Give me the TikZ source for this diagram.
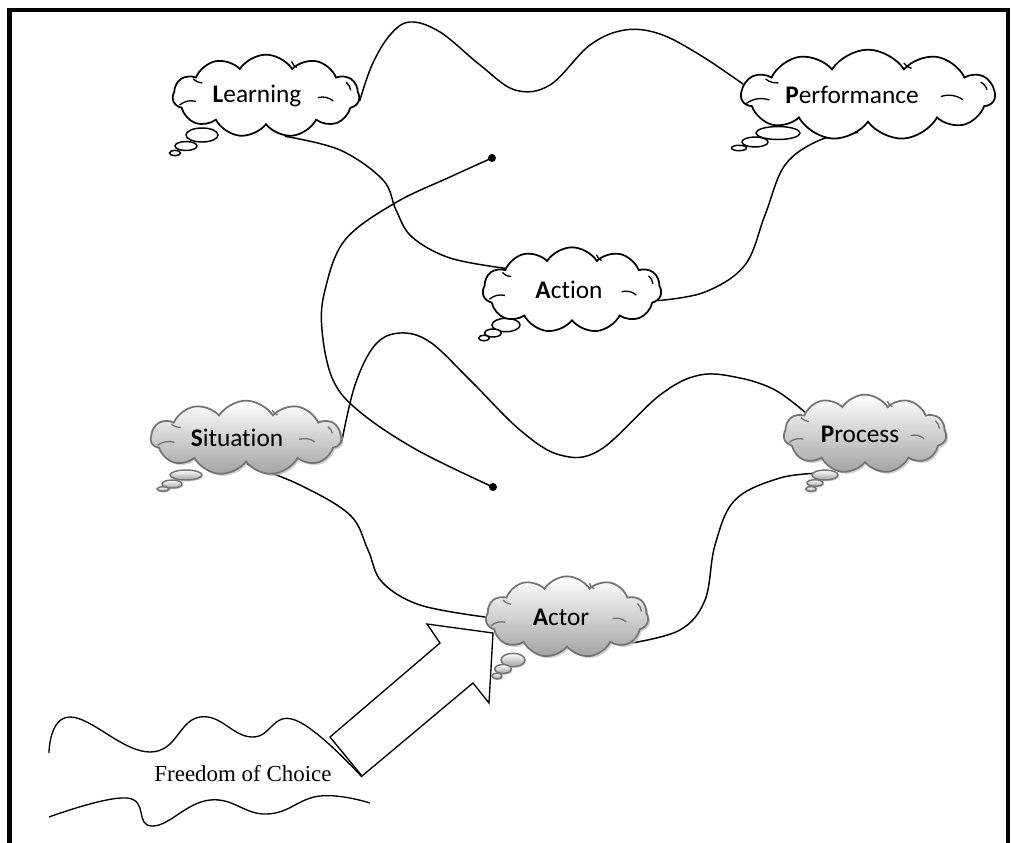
\documentclass[tikz,border=0pt]{standalone}
\usepackage{fontspec}
\setmainfont{Carlito}[Ligatures=NoCommon]
\newfontfamily\serifface{Liberation Serif}
\usetikzlibrary{shapes.symbols,shadows,backgrounds}
% zero-width label; the optional shift moves the words left or right
\newcommand\cloudtext[2][0pt]{\makebox[0pt]{\hspace*{#1}#2}}
% small creases inside a cloud; #2 node, #3 half width, #4 half height
\newcommand\creases[4][black]{%
  \begin{scope}[shift={(#2.center)}, line width=1pt, draw=#1]
    \draw (-0.95*#3,0.22*#4) to[bend left=25] (-0.77*#3,0.13*#4);
    \draw (-0.80*#3,-0.42*#4) to[bend right=20] (-0.70*#3,-0.32*#4);
    \draw (0.57*#3,0.04*#4) to[bend left=25] (0.74*#3,0.12*#4);
    \draw (0.88*#3,-0.34*#4) to[bend left=20] (0.93*#3,-0.14*#4);
    \draw (0.28*#3,-0.84*#4) to[bend right=20] (0.34*#3,-0.70*#4);
  \end{scope}}
\begin{document}
\begin{tikzpicture}[x=0.75pt,y=-0.75pt,
  thought/.style={cloud, cloud puffs=11, cloud puff arc=115,
    cloud ignores aspect, inner sep=0pt,
    font=\fontsize{19}{22}\selectfont},
  plainthought/.style={thought, draw=black, line width=1.3pt, fill=white},
  greythought/.style={thought, draw=gray!90!black, line width=1.3pt,
    top color=white, bottom color=gray!72,
    drop shadow={shadow xshift=1.5pt, shadow yshift=-1.5pt, fill=gray!50, opacity=0.7}},
  plainbubble/.style={draw=black, line width=1.1pt, fill=white},
  greybubble/.style={draw=gray!90!black, line width=1.1pt,
    top color=white, bottom color=gray!72,
    drop shadow={shadow xshift=1pt, shadow yshift=-1pt, fill=gray!50, opacity=0.7}},
  link/.style={line width=1.1pt},
  dot/.style={circle, fill=black, inner sep=0pt, minimum size=6pt}]

\useasboundingbox (0,0) rectangle (1011,843);

% frame (open at the bottom)
\draw[line width=3.4pt] (9.5,845) -- (9.5,10) -- (1008,10) -- (1008,845);

% thought bubbles trailing from each cloud
\draw[plainbubble] (202,135) ellipse [x radius=16, y radius=7];
\draw[plainbubble] (186,146) ellipse [x radius=11, y radius=4.5];
\draw[plainbubble] (175,153) ellipse [x radius=5.5, y radius=2.7];

\draw[plainbubble] (778,133) ellipse [x radius=22, y radius=6.5];
\draw[plainbubble] (755,142) ellipse [x radius=13, y radius=5];
\draw[plainbubble] (739,148) ellipse [x radius=7.5, y radius=2.7];

\draw[plainbubble] (506,325) ellipse [x radius=14, y radius=6.7];
\draw[plainbubble] (493,333) ellipse [x radius=8.3, y radius=4];
\draw[plainbubble] (484,338) ellipse [x radius=5.3, y radius=2.8];

\draw[greybubble] (186,475) ellipse [x radius=16, y radius=5];
\draw[greybubble] (172,484) ellipse [x radius=10, y radius=4];
\draw[greybubble] (163,489) ellipse [x radius=6, y radius=2.2];

\draw[greybubble] (825,475) ellipse [x radius=13, y radius=5];
\draw[greybubble] (815,483) ellipse [x radius=8, y radius=3.3];
\draw[greybubble] (811,489) ellipse [x radius=5.3, y radius=2.5];

\draw[greybubble] (513,660) ellipse [x radius=12, y radius=6.7];
\draw[greybubble] (503,669) ellipse [x radius=8.3, y radius=4.5];
\draw[greybubble] (497,676) ellipse [x radius=5, y radius=3];

% thought clouds
\node[plainthought, minimum width=140, minimum height=62] (learn) at (266,96)
  {\cloudtext[-13.5pt]{\textbf{L}earning}};
\node[plainthought, minimum width=190, minimum height=68] (perf) at (868,95)
  {\cloudtext[-24pt]{\textbf{P}erformance}};
\node[plainthought, minimum width=134, minimum height=64] (action) at (572,290)
  {\cloudtext[-4.5pt]{\textbf{A}ction}};
\node[greythought, minimum width=143, minimum height=56] (situ) at (246,438)
  {\cloudtext[-13.5pt]{\textbf{S}ituation}};
\node[greythought, minimum width=122, minimum height=59] (proc) at (865,434)
  {\cloudtext[-7.5pt]{\textbf{P}rocess}};
\node[greythought, minimum width=122, minimum height=61] (actor) at (567,617)
  {\cloudtext[-9pt]{\textbf{A}ctor}};

\creases{learn}{91}{41}
\creases{perf}{128}{38}
\creases{action}{87}{42}
\creases[gray!90!black]{situ}{93}{33}
\creases[gray!90!black]{proc}{80}{39}
\creases[gray!90!black]{actor}{80}{40}

% end points of the free curve
\node[dot] (d1) at (492,158) {};
\node[dot] (d2) at (493,487) {};

\begin{pgfonlayer}{background}
% Learning -- Performance
\draw[link] plot[smooth, tension=.6] coordinates {(learn.-3) (372,65) (390,35) (410,22)
  (440,32) (480,65) (515,90) (550,85) (590,45) (625,30) (660,34) (700,55) (perf.175)};
% Learning -- Action
\draw[link] plot[smooth, tension=.6] coordinates {(learn.-65) (340,150) (383,180)
  (396,210) (412,237) (450,258) (action.162)};
% Action -- Performance
\draw[link] plot[smooth, tension=.6] coordinates {(action.-7) (705,292) (745,265)
  (765,215) (785,165) (820,140) (perf.-105)};
% free curve between the two dots
\draw[link] plot[smooth, tension=.6] coordinates {(d1) (450,177) (395,203) (345,240)
  (325,290) (322,330) (333,380) (360,412) (417,450) (d2)};
% Situation -- Process
\draw[link] plot[smooth, tension=.6] coordinates {(situ.-3) (355,385) (375,345) (400,333)
  (430,342) (470,380) (520,430) (560,455) (600,450) (660,395) (700,375) (740,378)
  (775,390) (proc.160)};
% Situation -- Actor
\draw[link] plot[smooth, tension=.6] coordinates {(situ.-88) (300,485) (350,515)
  (368,550) (382,582) (420,605) (actor.180)};
% Actor -- Process
\draw[link] plot[smooth, tension=.6] coordinates {(actor.-22) (680,630) (705,600)
  (715,545) (735,500) (780,478) (823,473)};
\end{pgfonlayer}

% Freedom of Choice band
\draw[line width=1pt] plot[smooth, tension=.75] coordinates {(49,753) (70,717)
  (150,752) (200,717) (252,737) (295,720) (362,777)};
\draw[line width=1pt] plot[smooth, tension=.75] coordinates {(49,817) (127,798)
  (152,826) (210,800) (267,814) (320,796) (370,803)};
\node[font=\serifface\fontsize{17.2}{20}\selectfont, inner sep=0pt] (free) at (243,774) {Freedom of Choice};

% block arrow pointing at the Actor
\draw[line width=1pt, fill=white, line join=miter] (330,737) -- (440,643) -- (427,624)
  -- (493,633) -- (489,703) -- (473,683) -- (362,776) -- cycle;
\end{tikzpicture}
\end{document}
